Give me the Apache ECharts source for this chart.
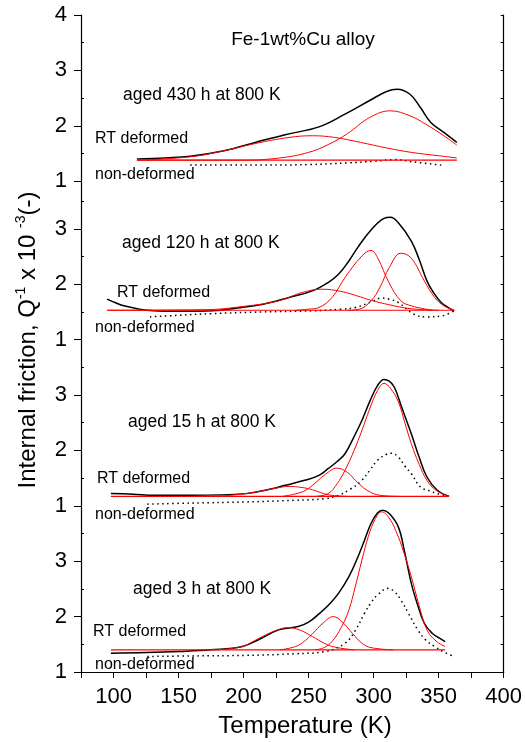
<!DOCTYPE html>
<html>
<head>
  <meta charset="utf-8">
  <script src="https://cdn.jsdelivr.net/npm/echarts@6/dist/echarts.min.js"></script>
</head>
<body style="margin:0">
  <div id="main" style="width:525px;height:742px;"></div>
  <script type="text/javascript">
    // panels from top to bottom: 430 h, 120 h, 15 h, 3 h (values in Q^-1 x 10^-3)
    var panelShift = [7.86, 5.0, 2.0, -1.0];
    var panelTicks = [[4, 3, 2, 1], [3, 2, 1], [3, 2, 1], [3, 2, 1]];
    var panelMinor = [[3.5, 2.5, 1.5], [3.5, 2.5, 1.5], [3.5, 2.5, 1.5], [3.5, 2.5, 1.5]];

    // aged 430 h
    var rt430 = [[118,1.40],[140,1.42],[159,1.45],[185,1.55],[209,1.70],[232,1.84],[258,1.98],[278,2.21],[298,2.47],[310,2.62],[318,2.66],[328,2.57],[336,2.33],[344,2.06],[354,1.88],[364,1.70]];
    var nd430 = [[159,1.29],[200,1.29],[250,1.30],[280,1.33],[300,1.36],[316,1.39],[330,1.35],[352,1.29]];
    var base430 = [[118,1.38],[364,1.38]];
    var fitA430 = [[118,1.38],[159,1.44],[185,1.55],[209,1.68],[235,1.79],[253,1.82],[270,1.79],[290,1.70],[310,1.60],[329,1.52],[350,1.46],[364,1.42]];
    var fitB430 = [[118,1.38],[200,1.38],[228,1.42],[250,1.52],[265,1.66],[280,1.86],[297,2.15],[313,2.27],[328,2.18],[340,2.03],[354,1.82],[364,1.65]];

    // aged 120 h
    var rt120 = [[95,1.73],[102,1.66],[108,1.61],[120,1.55],[131,1.52],[150,1.51],[176,1.52],[195,1.57],[215,1.64],[235,1.76],[253,1.88],[265,2.03],[273,2.18],[281,2.42],[288,2.67],[298,2.98],[308,3.19],[313,3.21],[319,3.11],[329,2.78],[335,2.45],[341,2.06],[346,1.85],[352,1.67],[358,1.57],[362,1.52]];
    var nd120 = [[128,1.41],[150,1.44],[176,1.47],[215,1.50],[253,1.52],[275,1.55],[286,1.58],[298,1.68],[306,1.75],[312,1.73],[319,1.67],[331,1.46],[341,1.41],[353,1.43],[362,1.52]];
    var base120 = [[95,1.53],[362,1.53]];
    var fitA120 = [[95,1.53],[170,1.54],[200,1.60],[227,1.70],[245,1.85],[260,1.91],[275,1.87],[290,1.77],[298,1.71],[312,1.63],[328,1.56],[350,1.53]];
    var fitB120 = [[240,1.53],[250,1.55],[258,1.58],[268,1.76],[278,2.12],[291,2.51],[298,2.61],[303,2.48],[312,2.02],[321,1.70],[329,1.61],[345,1.53]];
    var fitC120 = [[280,1.53],[289,1.55],[298,1.70],[305,1.95],[312,2.30],[321,2.56],[329,2.47],[339,2.06],[347,1.76],[354,1.61],[362,1.53]];

    // aged 15 h
    var rt15 = [[98,1.22],[115,1.21],[131,1.19],[160,1.19],[202,1.22],[220,1.30],[232,1.37],[247,1.46],[258,1.55],[265,1.67],[272,1.80],[278,1.94],[285,2.25],[291,2.54],[297,2.88],[303,3.17],[308,3.28],[312,3.25],[316,3.14],[322,2.75],[329,2.30],[335,1.88],[341,1.52],[349,1.28],[358,1.17]];
    var nd15 = [[126,1.03],[160,1.05],[202,1.07],[240,1.10],[263,1.13],[273,1.19],[282,1.30],[291,1.46],[297,1.64],[303,1.82],[310,1.93],[314,1.95],[319,1.88],[324,1.72],[329,1.58],[336,1.34],[343,1.27],[349,1.22],[358,1.17]];
    var base15 = [[98,1.17],[358,1.17]];
    var fitA15 = [[170,1.17],[190,1.19],[210,1.25],[225,1.32],[235,1.35],[245,1.33],[253,1.29],[265,1.20],[280,1.17]];
    var fitB15 = [[230,1.17],[245,1.25],[253,1.37],[263,1.57],[272,1.68],[280,1.60],[286,1.46],[295,1.28],[305,1.19],[320,1.17]];
    var fitC15 = [[255,1.17],[265,1.22],[272,1.40],[278,1.64],[285,2.00],[291,2.36],[297,2.75],[303,3.08],[308,3.21],[313,3.12],[319,2.88],[324,2.50],[329,2.12],[335,1.75],[341,1.46],[348,1.28],[358,1.17]];

    // aged 3 h
    var rt3 = [[98,1.34],[125,1.35],[151,1.37],[175,1.40],[199,1.46],[213,1.60],[227,1.76],[242,1.82],[250,1.90],[258,2.05],[265,2.20],[273,2.42],[281,2.72],[288,3.08],[293,3.38],[298,3.68],[303,3.87],[307,3.92],[312,3.86],[319,3.62],[324,3.15],[329,2.60],[334,2.20],[339,1.88],[345,1.70],[350,1.62],[355,1.55]];
    var nd3 = [[126,1.28],[160,1.29],[202,1.30],[240,1.33],[263,1.37],[278,1.52],[286,1.75],[293,2.06],[298,2.25],[303,2.39],[311,2.51],[316,2.45],[321,2.30],[327,2.05],[334,1.76],[340,1.58],[347,1.46],[354,1.36],[362,1.28]];
    var base3 = [[98,1.40],[355,1.40]];
    var fitA3 = [[180,1.40],[199,1.46],[208,1.56],[217,1.67],[226,1.76],[234,1.80],[243,1.76],[253,1.64],[262,1.52],[270,1.45],[285,1.40]];
    var fitB3 = [[228,1.40],[240,1.46],[247,1.56],[253,1.69],[261,1.88],[269,2.00],[276,1.90],[284,1.69],[291,1.52],[298,1.44],[315,1.40]];
    var fitC3 = [[255,1.40],[262,1.44],[268,1.55],[275,1.80],[281,2.12],[286,2.55],[291,3.02],[296,3.45],[301,3.75],[306,3.89],[312,3.78],[319,3.44],[324,3.10],[329,2.72],[335,2.20],[341,1.76],[348,1.56],[355,1.46]];

    var panels = [
      { rt: rt430, nd: nd430, base: base430, fits: [fitA430, fitB430] },
      { rt: rt120, nd: nd120, base: base120, fits: [fitA120, fitB120, fitC120] },
      { rt: rt15, nd: nd15, base: base15, fits: [fitA15, fitB15, fitC15] },
      { rt: rt3, nd: nd3, base: base3, fits: [fitA3, fitB3, fitC3] }
    ];

    var FONT = 'Liberation Sans, Arial, Helvetica, sans-serif';

    function shift(data, k) {
      return data.map(function (p) { return [p[0], p[1] + panelShift[k]]; });
    }

    // tick positions on the shared axis
    var majorPos = [], majorText = [], minorPos = [];
    panelTicks.forEach(function (t, k) {
      t.forEach(function (v) { majorPos.push(v + panelShift[k]); majorText.push(String(v)); });
    });
    panelMinor.forEach(function (t, k) {
      t.forEach(function (v) { minorPos.push(v + panelShift[k]); });
    });
    function tickLabel(val) {
      for (var i = 0; i < majorPos.length; i++) {
        if (Math.abs(majorPos[i] - val) < 1e-6) return majorText[i];
      }
      return '';
    }

    var series = [];
    panels.forEach(function (p, k) {
      series.push({ type: 'line', data: shift(p.base, k), symbol: 'none', lineStyle: { color: '#ff0000', width: 1.2 }, z: 3 });
      p.fits.forEach(function (f) {
        series.push({ type: 'line', data: shift(f, k), symbol: 'none', smooth: 0.4, lineStyle: { color: '#ff0000', width: 1 }, z: 3 });
      });
      series.push({ type: 'line', data: shift(p.nd, k), symbol: 'none', smooth: 0.4, lineStyle: { color: '#000', width: 1.5, type: [1.5, 3.5] }, z: 2 });
      series.push({ type: 'line', data: shift(p.rt, k), symbol: 'none', smooth: 0.4, lineStyle: { color: '#000', width: 1.5 }, z: 2 });
    });

    var notes = [
      { text: 'aged 430 h at 800 K', x: 123, y: 95 },
      { text: 'RT deformed', x: 95, y: 139 },
      { text: 'non-deformed', x: 95, y: 175 },
      { text: 'aged 120 h at 800 K', x: 122, y: 243 },
      { text: 'RT deformed', x: 117, y: 293 },
      { text: 'non-deformed', x: 95, y: 328 },
      { text: 'aged 15 h at 800 K', x: 128, y: 422 },
      { text: 'RT deformed', x: 97, y: 479 },
      { text: 'non-deformed', x: 95, y: 515 },
      { text: 'aged 3 h at 800 K', x: 133, y: 589 },
      { text: 'RT deformed', x: 93, y: 632 },
      { text: 'non-deformed', x: 95, y: 665 }
    ];
    var graphics = notes.map(function (n) {
      var big = n.text.indexOf('aged') === 0;
      return {
        type: 'text', x: n.x, y: n.y, silent: true,
        style: { text: n.text, fill: '#000', fontFamily: FONT, fontSize: big ? 17.5 : 16, textVerticalAlign: 'middle' }
      };
    });
    graphics.push({
      type: 'text', x: 303, y: 40, silent: true,
      style: { text: 'Fe-1wt%Cu alloy', fill: '#000', fontFamily: FONT, fontSize: 19, textAlign: 'center', textVerticalAlign: 'middle' }
    });
    graphics.push({
      type: 'text', x: 305, y: 726, silent: true,
      style: { text: 'Temperature (K)', fill: '#000', fontFamily: FONT, fontSize: 24, textAlign: 'center', textVerticalAlign: 'middle' }
    });
    graphics.push({
      type: 'text', x: 28, y: 340, rotation: Math.PI / 2, silent: true,
      style: {
        text: 'Internal friction, Q{sup|-1} x 10 {sup|-3}(-)',
        fill: '#000', fontFamily: FONT, fontSize: 24, textAlign: 'center', textVerticalAlign: 'middle',
        rich: { sup: { fontFamily: FONT, fontSize: 14, fill: '#000', padding: [0, 0, 13, 0] } }
      }
    });

    var chart = echarts.init(document.getElementById('main'));
    chart.setOption({
      animation: false,
      grid: { left: 81, right: 18, top: 15, bottom: 70 },
      xAxis: [{
        type: 'value', min: 75, max: 400, interval: 25,
        axisLine: { lineStyle: { color: '#000', width: 1.2 } },
        axisTick: { inside: false, length: 6, lineStyle: { color: '#000' } },
        axisLabel: {
          margin: 14, color: '#000', fontSize: 22, fontFamily: FONT,
          formatter: function (v) { return v % 50 === 0 ? String(v) : ''; }
        },
        splitLine: { show: false }
      }, {
        type: 'value', position: 'top', min: 75, max: 400, interval: 25,
        axisLine: { show: true, lineStyle: { color: '#000', width: 1.2 } },
        axisTick: { inside: true, length: 3, lineStyle: { color: '#000' } },
        axisLabel: { show: false }, splitLine: { show: false }
      }],
      yAxis: [{
        type: 'value', min: 0, max: 11.86,
        axisLine: { show: true, lineStyle: { color: '#000', width: 1.2 } },
        axisTick: { show: true, inside: false, length: 7, customValues: majorPos, lineStyle: { color: '#000' } },
        axisLabel: { margin: 14, color: '#000', fontSize: 22, fontFamily: FONT, customValues: majorPos, formatter: tickLabel },
        splitLine: { show: false }
      }, {
        type: 'value', min: 0, max: 11.86, position: 'left',
        axisLine: { show: false },
        axisTick: { show: true, inside: true, length: 3, customValues: minorPos, lineStyle: { color: '#000' } },
        axisLabel: { show: false }, splitLine: { show: false }
      }, {
        type: 'value', min: 0, max: 11.86, position: 'right',
        axisLine: { show: true, lineStyle: { color: '#000', width: 1.2 } },
        axisTick: { show: true, inside: true, length: 3, customValues: majorPos.concat(minorPos), lineStyle: { color: '#000' } },
        axisLabel: { show: false }, splitLine: { show: false }
      }],
      series: series,
      graphic: graphics
    });
  </script>
</body>
</html>
